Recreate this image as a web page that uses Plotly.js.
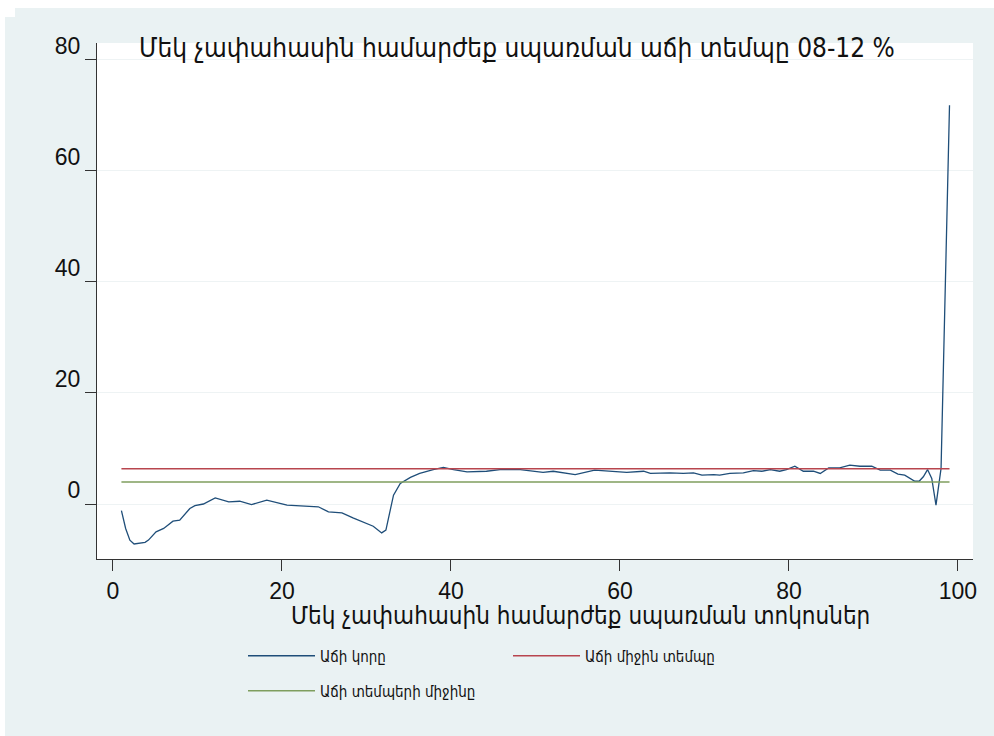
<!DOCTYPE html>
<html>
<head>
<meta charset="utf-8">
<script src="https://cdn.plot.ly/plotly-3.0.1.min.js"></script>
<style>
  body { margin: 0; }
  #chart { width: 994px; height: 736px; }
</style>
</head>
<body>
<div id="chart"></div>
<script>
// growth incidence curve
const percentiles = [1.0, 1.5, 2.0, 2.5, 3.8, 4.2, 5.1, 6.0, 7.1, 7.9, 9.1, 9.7, 10.7, 12.1, 13.7, 15.0, 16.4, 18.2, 20.6, 22.1,
	23.3, 24.3, 25.5, 27.1, 28.4, 30.8, 31.8, 32.3, 33.2, 34.0, 35.2, 36.3, 37.9, 39.1, 40.3, 41.9, 44.2, 45.8, 48.2, 50.9,
	52.1, 54.7, 57.0, 59.2, 60.8, 62.8, 63.6, 65.9, 67.5, 68.7, 69.7, 71.1, 71.8, 73.0, 74.6, 75.8, 76.8, 77.8, 78.9, 79.7,
	80.7, 81.7, 82.9, 83.7, 84.7, 86.0, 87.2, 88.4, 89.8, 90.8, 92.0, 92.9, 93.7, 94.9, 95.4, 95.9, 96.4, 96.9, 97.4, 98.0, 99.0];
const growthCurve = [-1.2, -4.4, -6.5, -7.2, -6.9, -6.5, -5.0, -4.4, -3.1, -2.9, -0.8, -0.3, 0, 1.1, 0.4, 0.5, -0.1, 0.7, -0.2, -0.3,
	-0.5, -0.5, -1.4, -1.6, -2.5, -4.0, -5.2, -4.7, 1.6, 3.7, 4.8, 5.5, 6.2, 6.6, 6.2, 5.8, 5.9, 6.2, 6.2, 5.7,
	5.9, 5.3, 6.1, 5.8, 5.7, 5.9, 5.5, 5.6, 5.5, 5.6, 5.2, 5.3, 5.2, 5.5, 5.6, 6.0, 5.9, 6.2, 5.9, 6.2,
	6.8, 5.9, 5.9, 5.5, 6.5, 6.5, 7.0, 6.8, 6.8, 6.1, 6.1, 5.4, 5.2, 4.1, 4.1, 4.9, 6.2, 4.6, -0.2, 6.4, 71.8];

// horizontal reference lines
const lineX = [1, 99];
const meanGrowthRate = [6.35, 6.35];
const meanOfGrowthRates = [3.96, 3.96];

const xTicks = [0, 20, 40, 60, 80, 100];
const yTicks = [0, 20, 40, 60, 80];

const seriesNames = ['Աճի կորը', 'Աճի միջին տեմպը', 'Աճի տեմպերի միջինը'];
const chartTitle = 'Մեկ չափահասին համարժեք սպառման աճի տեմպը 08-12 %';
const xTitle = 'Մեկ չափահասին համարժեք սպառման տոկոսներ';

const bgBlue = '#eaf2f3';
const numFont = 'Liberation Sans, Arial, DejaVu Sans, sans-serif';
const armFont = 'DejaVu Sans Condensed, DejaVu Sans, sans-serif';

const data = [
	{
		x: percentiles,
		y: growthCurve,
		mode: 'lines',
		name: seriesNames[0],
		line: { color: '#1f4e79', width: 1.3 },
		legend: 'legend',
	},
	{
		x: lineX,
		y: meanGrowthRate,
		mode: 'lines',
		name: seriesNames[1],
		line: { color: '#b8454e', width: 1.3 },
		legend: 'legend',
	},
	{
		x: lineX,
		y: meanOfGrowthRates,
		mode: 'lines',
		name: seriesNames[2],
		line: { color: '#7f9e5e', width: 1.3 },
		legend: 'legend2',
	},
];

const legendBase = {
	orientation: 'h',
	xanchor: 'left',
	yanchor: 'middle',
	bgcolor: 'rgba(0,0,0,0)',
	font: { family: armFont, size: 15, color: '#111' },
	itemwidth: 67,
	entrywidth: 183,
};

const layout = {
	width: 994,
	height: 736,
	margin: { l: 97, r: 21, t: 43, b: 177 },
	paper_bgcolor: bgBlue,
	plot_bgcolor: '#ffffff',
	font: { family: numFont, color: '#111' },
	title: {
		text: chartTitle,
		font: { family: armFont, size: 26, color: '#111' },
		x: 0.52,
		xanchor: 'center',
		xref: 'container',
		y: 1 - 48 / 736,
		yanchor: 'middle',
		yref: 'container',
	},
	xaxis: {
		range: [-1.89, 101.78],
		tickvals: xTicks,
		ticks: 'outside',
		ticklen: 11,
		tickcolor: '#333',
		tickfont: { size: 23, family: numFont },
		showline: true,
		linecolor: '#333',
		linewidth: 1,
		showgrid: false,
		zeroline: false,
	},
	yaxis: {
		range: [-9.9, 83.0],
		tickvals: yTicks,
		ticks: 'outside',
		ticklen: 11,
		tickcolor: '#333',
		tickfont: { size: 23, family: numFont },
		ticklabelshift: -14,
		showline: true,
		linecolor: '#333',
		linewidth: 1,
		showgrid: true,
		gridcolor: '#eef3f4',
		zeroline: false,
	},
	showlegend: true,
	legend: Object.assign({}, legendBase, { x: (243 - 97) / 876, y: (559 - 656) / 516 }),
	legend2: Object.assign({}, legendBase, { x: (243 - 97) / 876, y: (559 - 691) / 516 }),
	annotations: [
		{
			text: xTitle,
			xref: 'paper',
			yref: 'paper',
			x: (580 - 97) / 876,
			y: (559 - 616) / 516,
			xanchor: 'center',
			yanchor: 'middle',
			showarrow: false,
			font: { family: armFont, size: 24, color: '#111' },
		},
	],
	// white strips along the top and left edge of the picture
	shapes: [
		{ type: 'rect', xref: 'paper', yref: 'paper', x0: -97 / 876, x1: 897 / 876, y0: (559 - 8) / 516, y1: 559 / 516, fillcolor: '#ffffff', line: { width: 0 }, layer: 'below' },
		{ type: 'rect', xref: 'paper', yref: 'paper', x0: -97 / 876, x1: -92 / 876, y0: -177 / 516, y1: 559 / 516, fillcolor: '#ffffff', line: { width: 0 }, layer: 'below' },
		{ type: 'rect', xref: 'paper', yref: 'paper', x0: -97 / 876, x1: -82 / 876, y0: (559 - 17) / 516, y1: 559 / 516, fillcolor: '#ffffff', line: { width: 0 }, layer: 'below' },
	],
};

Plotly.newPlot('chart', data, layout, { staticPlot: true });
</script>
</body>
</html>
